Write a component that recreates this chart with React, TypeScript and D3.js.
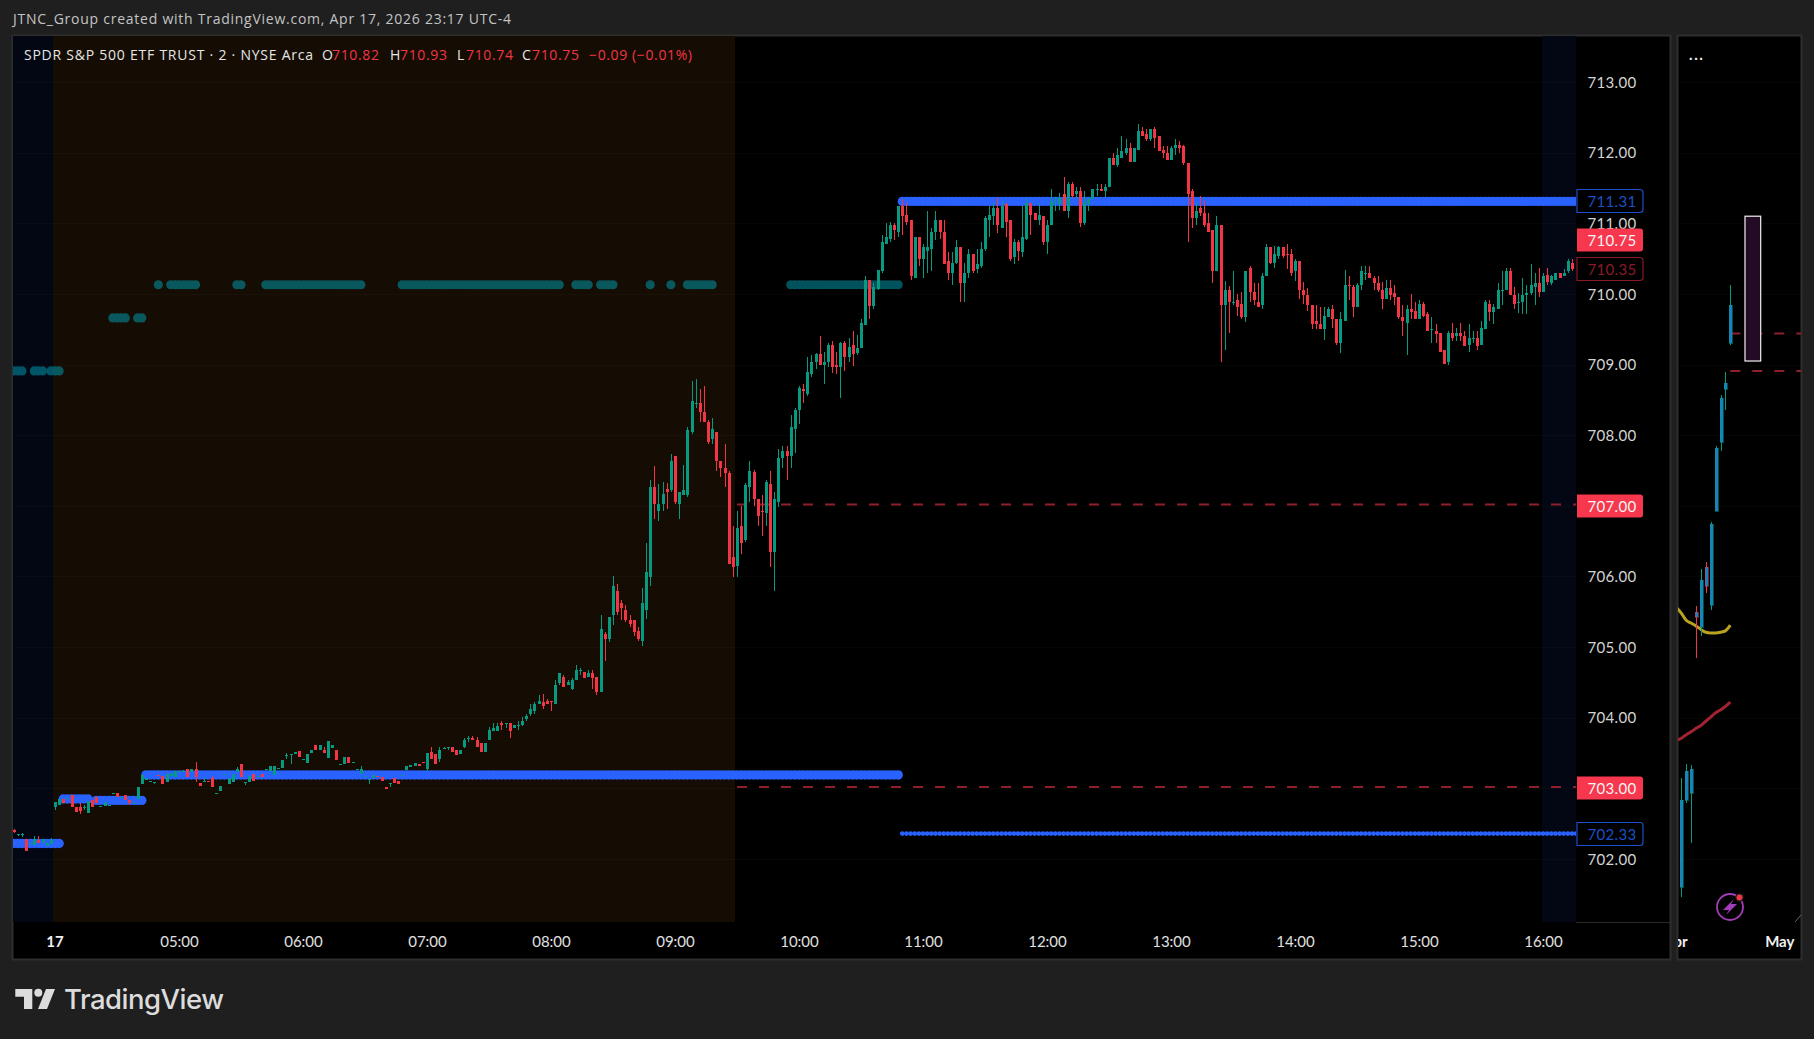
import { useEffect, useRef } from 'react';
import * as d3 from 'd3';

// SPY 2 minute chart, [open, high, low, close], one list per hour
type Bar = [number, number, number, number];

const overnightBars: Bar[] = [
  [702.41,702.42,702.37,702.38],[702.35,702.36,702.33,702.36],[702.34,702.37,702.31,702.35],[702.29,702.29,702.11,702.11],[702.21,702.22,702.21,702.22],
  [702.20,702.32,702.20,702.29],[702.27,702.32,702.22,702.22],[702.22,702.28,702.22,702.28],[702.18,702.22,702.18,702.22],[702.21,702.30,702.21,702.27],
];
const hour04: Bar[] = [
  [702.74,702.81,702.69,702.81],[702.77,702.85,702.77,702.85],[702.85,702.85,702.79,702.79],[702.85,702.87,702.85,702.87],[702.90,702.90,702.74,702.74],
  [702.73,702.73,702.67,702.67],[702.73,702.79,702.63,702.68],[702.73,702.76,702.69,702.74],[702.65,702.82,702.65,702.82],[702.83,702.83,702.74,702.74],
  [702.88,702.88,702.79,702.79],[702.74,702.75,702.74,702.75],[702.75,702.80,702.75,702.80],[702.75,702.77,702.75,702.77],[702.92,702.93,702.92,702.93],
  [702.93,702.93,702.88,702.88],[702.87,702.88,702.87,702.88],[702.90,702.90,702.83,702.83],[702.83,702.83,702.76,702.79],[702.78,702.79,702.78,702.79],
  [702.85,703.02,702.85,703.02],[703.06,703.19,703.06,703.19],[703.12,703.14,703.12,703.14],[703.09,703.11,703.09,703.11],[703.08,703.09,703.06,703.09],
  [703.19,703.19,703.18,703.18],[703.17,703.17,703.06,703.06],[703.09,703.21,703.09,703.21],[703.17,703.22,703.17,703.22],[703.16,703.24,703.16,703.24],
];
const hour05: Bar[] = [
  [703.24,703.25,703.24,703.25],[703.24,703.26,703.24,703.25],[703.28,703.28,703.16,703.16],[703.23,703.27,703.23,703.27],[703.28,703.38,703.09,703.16],
  [703.08,703.08,703.03,703.03],[703.10,703.16,703.10,703.11],[703.11,703.11,703.10,703.10],[703.14,703.17,703.02,703.02],[702.93,702.94,702.93,702.94],
  [702.96,703.04,702.96,703.04],[703.19,703.20,703.19,703.20],[703.06,703.14,703.06,703.14],[703.09,703.20,703.09,703.20],[703.23,703.30,703.23,703.27],
  [703.34,703.34,703.16,703.16],[703.08,703.09,703.05,703.09],[703.09,703.17,703.09,703.17],[703.20,703.20,703.10,703.10],[703.17,703.18,703.17,703.18],
  [703.20,703.20,703.16,703.16],[703.26,703.27,703.26,703.27],[703.25,703.31,703.25,703.31],[703.19,703.31,703.19,703.31],[703.28,703.29,703.28,703.29],
  [703.29,703.40,703.29,703.40],[703.46,703.50,703.41,703.47],[703.47,703.48,703.34,703.48],[703.48,703.52,703.48,703.52],[703.53,703.53,703.45,703.45],
];
const hour06: Bar[] = [
  [703.40,703.41,703.40,703.41],[703.36,703.48,703.36,703.48],[703.50,703.54,703.50,703.54],[703.61,703.61,703.55,703.55],[703.55,703.61,703.55,703.61],
  [703.55,703.59,703.50,703.50],[703.43,703.67,703.43,703.67],[703.57,703.61,703.57,703.61],[703.55,703.55,703.40,703.40],[703.33,703.34,703.33,703.34],
  [703.34,703.44,703.34,703.44],[703.44,703.44,703.36,703.36],[703.36,703.37,703.36,703.37],[703.26,703.27,703.26,703.27],[703.21,703.31,703.21,703.27],
  [703.16,703.17,703.16,703.17],[703.12,703.13,703.06,703.13],[703.14,703.19,703.14,703.19],[703.18,703.18,703.17,703.17],[703.16,703.16,703.11,703.11],
  [703.02,703.02,702.99,702.99],[703.07,703.08,703.02,703.08],[703.14,703.14,703.07,703.07],[703.11,703.11,703.06,703.06],[703.18,703.19,703.18,703.19],
  [703.26,703.31,703.26,703.31],[703.30,703.33,703.30,703.33],[703.31,703.36,703.31,703.36],[703.34,703.34,703.31,703.31],[703.37,703.37,703.36,703.36],
];
const hour07: Bar[] = [
  [703.27,703.50,703.25,703.50],[703.51,703.58,703.42,703.42],[703.48,703.49,703.35,703.35],[703.41,703.58,703.38,703.55],[703.56,703.58,703.56,703.57],
  [703.57,703.58,703.55,703.58],[703.58,703.58,703.52,703.52],[703.55,703.55,703.47,703.47],[703.49,703.54,703.49,703.54],[703.59,703.71,703.57,703.69],
  [703.70,703.74,703.66,703.71],[703.71,703.74,703.68,703.68],[703.69,703.73,703.59,703.59],[703.64,703.64,703.52,703.52],[703.52,703.64,703.52,703.64],
  [703.69,703.87,703.69,703.83],[703.81,703.92,703.81,703.86],[703.81,703.92,703.81,703.88],[703.93,703.95,703.82,703.89],[703.91,703.92,703.85,703.92],
  [703.92,703.92,703.71,703.81],[703.85,703.89,703.85,703.89],[703.88,703.95,703.82,703.89],[703.90,704.01,703.88,703.95],[703.98,704.05,703.95,704.03],
  [704.05,704.19,704.02,704.13],[704.09,704.22,704.05,704.19],[704.20,704.32,704.20,704.24],[704.22,704.33,704.12,704.17],[704.23,704.26,704.19,704.20],
];
const hour08: Bar[] = [
  [704.24,704.24,704.10,704.23],[704.20,704.53,704.20,704.47],[704.49,704.63,704.46,704.63],[704.58,704.61,704.44,704.44],[704.46,704.53,704.46,704.50],
  [704.41,704.56,704.39,704.53],[704.54,704.75,704.54,704.67],[704.66,704.70,704.60,704.67],[704.65,704.65,704.56,704.56],[704.58,704.68,704.58,704.63],
  [704.63,704.67,704.41,704.56],[704.57,704.57,704.32,704.36],[704.37,705.45,704.37,705.25],[705.18,705.21,704.81,705.12],[705.12,705.43,705.07,705.43],
  [705.46,706.01,705.31,705.86],[705.79,705.89,705.45,705.50],[705.62,705.67,705.39,705.56],[705.53,705.59,705.36,705.38],[705.38,705.45,705.29,705.32],
  [705.38,705.39,705.15,705.22],[705.23,705.29,705.08,705.11],[705.08,705.84,705.02,705.63],[705.53,706.47,705.40,706.07],[705.99,707.37,705.86,707.27],
  [707.27,707.57,706.81,707.02],[706.93,707.31,706.78,707.03],[707.03,707.34,706.92,707.17],[707.24,707.33,706.95,707.19],[707.22,707.73,707.20,707.63],
];
const hour09: Bar[] = [
  [707.71,707.71,707.03,707.05],[707.02,707.20,706.82,707.20],[707.16,707.58,707.16,707.22],[707.15,708.12,707.12,708.07],[708.05,708.76,708.01,708.48],
  [708.45,708.80,708.38,708.46],[708.46,708.66,708.18,708.33],[708.33,708.70,708.18,708.18],[708.19,708.22,707.88,707.91],[707.94,708.25,707.87,708.09],
  [708.04,708.04,707.50,707.64],[707.64,707.64,707.41,707.53],[707.54,707.88,707.27,707.46],[707.46,707.49,706.18,706.18],[706.28,706.72,705.99,706.14],
  [706.15,706.93,705.99,706.68],[706.72,707.00,706.32,706.48],[706.51,707.33,706.49,707.30],[707.27,707.63,707.05,707.50],[707.48,707.51,707.00,707.09],
  [707.10,707.10,706.72,706.86],[706.93,707.16,706.57,706.92],[706.90,707.37,706.72,707.34],[707.31,707.49,706.13,706.35],[706.34,707.19,705.79,707.09],
  [707.06,707.81,706.98,707.68],[707.68,707.85,707.54,707.78],[707.78,707.85,707.36,707.70],[707.70,708.29,707.53,708.11],[708.09,708.38,707.75,708.35],
];
const hour10: Bar[] = [
  [708.35,708.70,708.16,708.67],[708.66,708.73,708.45,708.62],[708.59,709.10,708.56,708.89],[708.87,709.14,708.83,709.04],[709.03,709.17,708.93,709.15],
  [709.15,709.41,709.00,709.00],[709.00,709.18,708.73,709.04],[709.03,709.31,708.97,709.27],[709.27,709.34,708.88,708.97],[709.00,709.18,708.87,708.96],
  [708.97,709.32,708.53,709.30],[709.31,709.34,708.91,709.10],[709.10,709.38,709.04,709.25],[709.27,709.48,708.98,709.15],[709.17,709.42,709.14,709.24],
  [709.24,709.65,709.24,709.59],[709.56,710.26,709.56,710.20],[710.20,710.20,709.65,709.83],[709.83,710.16,709.78,710.10],[710.07,710.34,710.05,710.34],
  [710.33,710.83,710.30,710.74],[710.70,711.01,710.70,710.81],[710.78,711.02,710.74,710.97],[710.97,711.01,710.77,710.90],[710.88,711.25,710.81,711.25],
  [711.25,711.35,710.83,711.11],[711.12,711.28,710.98,711.02],[711.04,711.04,710.20,710.26],[710.23,710.81,710.23,710.80],[710.80,710.81,710.40,710.49],
];
const hour11: Bar[] = [
  [710.49,710.70,710.22,710.66],[710.61,711.18,710.30,710.66],[710.63,710.94,710.33,710.87],[710.87,711.18,710.76,711.04],[711.04,711.04,710.78,710.88],
  [710.87,711.05,710.42,710.42],[710.46,710.60,710.19,710.29],[710.29,710.59,710.12,710.44],[710.44,710.76,710.43,710.67],[710.67,710.67,709.88,710.15],
  [710.15,710.44,709.89,710.30],[710.29,710.64,710.23,710.56],[710.56,710.57,710.30,710.32],[710.35,710.64,710.29,710.42],[710.40,710.73,710.37,710.63],
  [710.63,711.10,710.61,711.07],[711.05,711.25,710.81,711.12],[711.10,711.29,710.98,711.21],[711.21,711.36,710.86,710.98],[710.94,711.31,710.93,711.24],
  [711.27,711.28,710.80,711.02],[711.04,711.04,710.46,710.50],[710.52,710.78,710.43,710.73],[710.73,710.77,710.47,710.61],[710.60,711.25,710.52,710.81],
  [710.78,711.36,710.77,711.28],[711.28,711.28,710.83,711.12],[711.14,711.14,711.04,711.05],[711.05,711.28,710.98,711.12],[711.11,711.11,710.69,710.74],
];
const hour12: Bar[] = [
  [710.74,711.04,710.56,710.98],[710.98,711.48,710.98,711.31],[711.35,711.37,711.18,711.36],[711.27,711.43,711.19,711.36],[711.41,711.65,711.17,711.17],
  [711.17,711.58,711.08,711.55],[711.56,711.58,711.36,711.39],[711.41,711.52,711.34,711.45],[711.46,711.51,710.95,711.00],[711.00,711.45,710.97,711.28],
  [711.27,711.36,711.18,711.35],[711.35,711.49,711.35,711.48],[711.48,711.55,711.39,711.49],[711.48,711.56,711.45,711.45],[711.45,711.55,711.37,711.52],
  [711.52,711.93,711.52,711.92],[711.93,711.99,711.82,711.82],[711.82,712.06,711.80,711.96],[711.92,712.24,711.92,712.03],[712.00,712.19,711.97,712.07],
  [712.07,712.13,711.87,711.87],[711.87,712.06,711.87,712.06],[712.04,712.40,712.04,712.31],[712.31,712.37,712.24,712.24],[712.26,712.33,712.17,712.19],
  [712.20,712.34,712.16,712.34],[712.34,712.36,712.07,712.21],[712.23,712.24,712.03,712.03],[712.04,712.09,711.93,711.99],[712.00,712.10,711.90,711.90],
];
const hour13: Bar[] = [
  [711.90,712.09,711.90,712.07],[712.07,712.19,711.96,712.11],[712.11,712.17,712.00,712.06],[712.09,712.11,711.83,711.85],[711.86,711.86,710.74,711.42],
  [711.46,711.48,710.94,711.08],[711.07,711.29,710.97,711.18],[711.21,711.39,711.10,711.14],[711.14,711.31,710.95,710.98],[711.00,711.15,710.88,710.88],
  [710.90,710.90,710.15,710.32],[710.32,711.10,710.32,710.98],[710.98,710.98,709.04,709.84],[709.84,710.18,709.20,710.06],[710.05,710.11,709.45,709.88],
  [709.88,710.32,709.85,709.89],[709.91,710.00,709.69,709.81],[709.86,710.03,709.64,709.67],[709.67,710.32,709.60,710.32],[710.36,710.39,709.89,710.03],
  [710.03,710.16,709.84,709.91],[709.88,710.16,709.82,709.82],[709.84,710.29,709.79,710.25],[710.25,710.71,710.25,710.67],[710.67,710.67,710.43,710.44],
  [710.44,710.68,710.37,710.57],[710.54,710.68,710.50,710.67],[710.67,710.67,710.51,710.54],[710.56,710.70,710.35,710.55],[710.57,710.63,710.26,710.29],
];
const hour14: Bar[] = [
  [710.32,710.50,710.18,710.47],[710.47,710.47,709.93,710.06],[710.06,710.17,709.86,709.98],[709.99,710.09,709.76,709.84],[709.85,709.85,709.51,709.58],
  [709.62,709.85,709.50,709.58],[709.58,709.82,709.51,709.51],[709.51,709.81,709.35,709.69],[709.68,709.81,709.68,709.78],[709.79,709.85,709.52,709.65],
  [709.65,709.65,709.27,709.30],[709.30,709.75,709.16,709.65],[709.62,710.34,709.61,710.13],[710.12,710.25,709.92,710.11],[710.10,710.13,709.68,709.81],
  [709.81,710.15,709.81,710.12],[710.12,710.40,710.06,710.32],[710.29,710.40,710.20,710.30],[710.30,710.39,710.23,710.23],[710.22,710.25,710.05,710.16],
  [710.16,710.25,710.03,710.05],[710.05,710.17,709.79,709.93],[709.93,710.19,709.93,710.08],[710.09,710.19,709.92,709.98],[710.01,710.12,709.85,709.95],
  [709.95,709.95,709.65,709.67],[709.68,709.85,709.41,709.61],[709.59,709.85,709.14,709.79],[709.78,710.00,709.64,709.74],[709.76,709.89,709.64,709.64],
];
const hour15: Bar[] = [
  [709.64,709.91,709.64,709.86],[709.86,709.89,709.68,709.69],[709.71,709.74,709.47,709.47],[709.49,709.68,709.30,709.50],[709.48,709.57,709.30,709.43],
  [709.44,709.44,709.18,709.18],[709.20,709.20,709.01,709.01],[709.03,709.47,709.00,709.44],[709.44,709.59,709.34,709.38],[709.40,709.52,709.33,709.45],
  [709.45,709.59,709.33,709.40],[709.41,709.47,709.26,709.26],[709.27,709.57,709.18,709.38],[709.37,709.48,709.30,709.38],[709.38,709.48,709.21,709.26],
  [709.27,709.62,709.27,709.52],[709.50,709.92,709.50,709.88],[709.86,709.92,709.61,709.74],[709.74,709.86,709.58,709.81],[709.79,710.16,709.79,710.05],
  [710.04,710.33,709.85,710.05],[710.05,710.37,710.05,710.33],[710.33,710.36,709.98,709.98],[709.99,710.10,709.78,709.86],[709.87,710.01,709.73,709.88],
  [709.88,710.23,709.72,709.98],[709.98,710.13,709.71,710.01],[710.01,710.42,709.99,710.12],[710.10,710.30,709.85,710.16],[710.16,710.36,709.95,710.03],
];
const hour16: Bar[] = [
  [710.03,710.29,710.02,710.25],[710.27,710.36,710.12,710.17],[710.15,710.27,710.13,710.26],[710.20,710.30,710.19,710.29],[710.29,710.30,710.22,710.22],
  [710.26,710.35,710.25,710.30],[710.32,710.50,710.29,710.47],[710.44,710.50,710.33,710.35],
];

// daily-ish candles in the right hand mini pane
const sideBars: Bar[] = [
  [702.57,702.77,702.57,702.77],[701.60,703.14,701.46,702.83],[702.83,703.34,702.79,703.24],[702.93,703.33,702.22,703.27],[705.49,705.58,704.85,705.42],
  [705.28,706.10,705.15,705.95],[706.13,706.21,705.76,705.87],[705.60,706.77,705.52,706.74],[706.93,707.84,706.93,707.82],[707.91,708.57,707.78,708.53],
  [708.66,708.89,708.35,708.74],[709.31,710.13,709.28,709.85],
];
const sideYellow = [705.56,705.48,705.38,705.34,705.30,705.25,705.21,705.20,705.20,705.21,705.23,705.31];
const sideRed = [703.68,703.71,703.76,703.80,703.85,703.89,703.95,704.01,704.07,704.11,704.16,704.22];
const sideLevels = [709.44, 708.91];
const sideBoxPrices = [711.10, 709.05];
const sideBoxBars = [13, 16.2];
const sideMonths = ['Apr', 'May'];
const sideMonthBars = [-1.2, 20.1];

// dots: [first bar, last bar, price]
const tealRuns: [number, number, number][] = [
  [-10, -8, 708.91], [-5, -3, 708.91], [-1, 1, 708.91],
  [14, 17, 709.66], [20, 21, 709.66],
  [25, 25, 710.13], [28, 34, 710.13], [44, 45, 710.13], [51, 74, 710.13], [84, 122, 710.13], [126, 129, 710.13],
  [132, 135, 710.13], [144, 144, 710.13], [149, 149, 710.13], [153, 159, 710.13], [178, 204, 710.13],
];
const blueRuns: [number, number, number][] = [
  [-10, 1, 702.22], [2, 8, 702.85], [10, 21, 702.83], [22, 204, 703.19], [205, 368, 711.31],
];
const thinBlueRun: [number, number, number] = [205, 368, 702.36];
const dashedLevels = [707.02, 703.02];
const dashedFromBar = 165;

const hourBars = [30, 60, 90, 120, 150, 180, 210, 240, 270, 300, 330, 360];
const hourLabels = ['05:00', '06:00', '07:00', '08:00', '09:00', '10:00', '11:00', '12:00', '13:00', '14:00', '15:00', '16:00'];
const priceTicks = [713, 712, 711, 710, 709, 708, 706, 705, 704, 702];
const gridPrices = [713, 712, 711, 710, 709, 708, 707, 706, 705, 704, 703, 702];
const solidTags = [710.76, 707, 703];
const solidTagLabels = ['710.75', '707.00', '703.00'];
const outlineTags = [711.31, 710.35, 702.36];
const outlineTagLabels = ['711.31', '710.35', '702.33'];
const outlineTagColors = ['#1c4fc7', '#8a1a28', '#1c4fc7'];

const WIDTH = 1814;
const HEIGHT = 1039;
const PANE = { left: 13, top: 36, right: 1670, bottom: 959 };
const PLOT_RIGHT = 1576;
const PLOT_BOTTOM = 922;
const SIDE = { left: 1678, right: 1801 };
const GREEN = '#089981';
const RED = '#f23645';
const FONT = 'Lato, "Open Sans", sans-serif';
const TEXT_FONT = '"Open Sans", Lato, sans-serif';

const headerParts: { x: number; text: string; fill: string; len?: number }[] = [
  { x: 24, text: 'SPDR S&P 500 ETF TRUST · 2 · NYSE Arca', fill: '#e6e6e6', len: 289 },
  { x: 322, text: 'O', fill: '#e6e6e6' },
  { x: 332, text: '710.82', fill: RED, len: 47 },
  { x: 390, text: 'H', fill: '#e6e6e6' },
  { x: 400, text: '710.93', fill: RED, len: 47 },
  { x: 457, text: 'L', fill: '#e6e6e6' },
  { x: 466, text: '710.74', fill: RED, len: 47 },
  { x: 522, text: 'C', fill: '#e6e6e6' },
  { x: 532, text: '710.75', fill: RED, len: 47 },
  { x: 589, text: '−0.09 (−0.01%)', fill: RED, len: 103 },
];

export default function App() {
  const svgRef = useRef<SVGSVGElement | null>(null);

  useEffect(() => {
    const svgEl = svgRef.current;
    if (!svgEl) return;
    const svg = d3.select(svgEl);
    svg.selectAll('*').remove();

    const bars = [...overnightBars, ...hour04, ...hour05, ...hour06, ...hour07, ...hour08, ...hour09, ...hour10, ...hour11, ...hour12, ...hour13, ...hour14, ...hour15, ...hour16];
    const firstBar = -overnightBars.length;

    const x = d3.scaleLinear().domain([30, 360]).range([179, 1543]);
    const y = d3.scaleLinear().domain([702, 713]).range([859, 82]);
    const sideX = d3.scaleLinear().domain([0, 10]).range([1681.3, 1730.3]);

    const defs = svg.append('defs');
    defs.append('clipPath').attr('id', 'plot-clip').append('rect')
      .attr('x', PANE.left).attr('y', PANE.top).attr('width', PLOT_RIGHT - PANE.left).attr('height', PLOT_BOTTOM - PANE.top);
    defs.append('clipPath').attr('id', 'side-clip').append('rect')
      .attr('x', SIDE.left).attr('y', PANE.top).attr('width', SIDE.right - SIDE.left).attr('height', PANE.bottom - PANE.top);

    // ---- page + panes -------------------------------------------------------
    svg.append('rect').attr('width', WIDTH).attr('height', HEIGHT).attr('fill', '#1f1f1f');
    svg.append('rect')
      .attr('x', PANE.left - 0.5).attr('y', PANE.top - 0.5)
      .attr('width', PANE.right - PANE.left + 1).attr('height', PANE.bottom - PANE.top + 1)
      .attr('fill', '#000').attr('stroke', '#2e2e2e').attr('stroke-width', 2);
    svg.append('rect')
      .attr('x', SIDE.left - 0.5).attr('y', PANE.top - 0.5)
      .attr('width', SIDE.right - SIDE.left + 1).attr('height', PANE.bottom - PANE.top + 1)
      .attr('fill', '#000').attr('stroke', '#2e2e2e').attr('stroke-width', 2);

    svg.append('text')
      .attr('x', 13).attr('y', 24)
      .attr('font-family', TEXT_FONT).attr('font-size', 14).attr('fill', '#c4c4c4')
      .attr('textLength', 498).attr('lengthAdjust', 'spacing')
      .text('JTNC_Group created with TradingView.com, Apr 17, 2026 23:17 UTC-4');

    // ---- main plot ----------------------------------------------------------
    const plot = svg.append('g').attr('clip-path', 'url(#plot-clip)');

    // session shading
    plot.append('rect').attr('x', PANE.left).attr('y', PANE.top).attr('width', x(0) - 2 - PANE.left).attr('height', PLOT_BOTTOM - PANE.top).attr('fill', '#020713');
    plot.append('rect').attr('x', x(0) - 2).attr('y', PANE.top).attr('width', x(165) - 2 - x(0) + 2).attr('height', PLOT_BOTTOM - PANE.top).attr('fill', '#150d03');
    plot.append('rect').attr('x', x(360) - 1).attr('y', PANE.top).attr('width', PLOT_RIGHT - x(360) + 1).attr('height', PLOT_BOTTOM - PANE.top).attr('fill', '#020713');

    plot.append('g').selectAll('line').data(gridPrices).join('line')
      .attr('x1', PANE.left).attr('x2', PLOT_RIGHT)
      .attr('y1', (d) => Math.round(y(d)) + 0.5).attr('y2', (d) => Math.round(y(d)) + 0.5)
      .attr('stroke', '#fff').attr('stroke-opacity', 0.025);

    // dashed levels
    plot.append('g').selectAll('line').data(dashedLevels).join('line')
      .attr('x1', x(dashedFromBar)).attr('x2', PLOT_RIGHT)
      .attr('y1', (d) => y(d)).attr('y2', (d) => y(d))
      .attr('stroke', '#8f1f2d').attr('stroke-width', 2).attr('stroke-dasharray', '10 12');

    // dotted level runs
    const dotsFor = (runs: [number, number, number][]) =>
      runs.flatMap(([from, to, price]) => d3.range(from, to + 1).map((bar) => ({ bar, price })));

    const tealLayer = plot.append('g').attr('opacity', 0.55);
    tealLayer.selectAll('circle').data(dotsFor(tealRuns)).join('circle')
      .attr('cx', (d) => x(d.bar)).attr('cy', (d) => y(d.price)).attr('r', 4.6).attr('fill', '#0096aa');

    plot.append('g').selectAll('circle').data(dotsFor(blueRuns)).join('circle')
      .attr('cx', (d) => x(d.bar)).attr('cy', (d) => y(d.price)).attr('r', 4.7).attr('fill', '#2962ff');
    plot.append('g').selectAll('circle').data(dotsFor([thinBlueRun])).join('circle')
      .attr('cx', (d) => x(d.bar)).attr('cy', (d) => y(d.price)).attr('r', 2.4).attr('fill', '#2962ff');

    // candles
    const candles = plot.append('g').attr('shape-rendering', 'crispEdges');
    const candle = candles.selectAll('g').data(bars).join('g')
      .attr('fill', (d) => (d[3] >= d[0] ? GREEN : RED));
    candle.append('rect')
      .attr('x', (_, i) => Math.round(x(i + firstBar)))
      .attr('width', 1)
      .attr('y', (d) => Math.round(y(d[1])))
      .attr('height', (d) => Math.max(1, Math.round(y(d[2])) - Math.round(y(d[1]))));
    candle.append('rect')
      .attr('x', (_, i) => Math.round(x(i + firstBar)) - 1)
      .attr('width', 3)
      .attr('y', (d) => Math.round(y(Math.max(d[0], d[3]))))
      .attr('height', (d) => Math.max(1, Math.round(y(Math.min(d[0], d[3]))) - Math.round(y(Math.max(d[0], d[3])))));

    // legend line
    const header = svg.append('g').attr('font-family', TEXT_FONT).attr('font-size', 14);
    header.selectAll('text').data(headerParts).join('text')
      .attr('x', (d) => d.x).attr('y', 60).attr('fill', (d) => d.fill)
      .attr('textLength', (d) => d.len ?? null).attr('lengthAdjust', 'spacing')
      .text((d) => d.text);

    // ---- time axis ----------------------------------------------------------
    svg.append('line')
      .attr('x1', PLOT_RIGHT).attr('x2', PANE.right).attr('y1', PLOT_BOTTOM + 0.5).attr('y2', PLOT_BOTTOM + 0.5)
      .attr('stroke', '#2a2a2a');

    const timeAxis = d3.axisBottom(x)
      .tickValues(hourBars)
      .tickSize(0)
      .tickPadding(0)
      .tickFormat((_, i) => hourLabels[i]);
    const timeG = svg.append('g').attr('transform', `translate(0, ${PLOT_BOTTOM + 25})`).call(timeAxis);
    timeG.select('.domain').remove();
    timeG.selectAll('text').attr('font-family', FONT).attr('font-size', 15).attr('fill', '#e0e0e0').attr('dy', 0);
    svg.append('text')
      .attr('x', x(0)).attr('y', PLOT_BOTTOM + 25).attr('text-anchor', 'middle')
      .attr('font-family', FONT).attr('font-size', 15).attr('font-weight', 700).attr('fill', '#f0f0f0').text('17');

    // ---- price axis ---------------------------------------------------------
    const priceAxis = d3.axisRight(y)
      .tickValues(priceTicks)
      .tickSize(0)
      .tickPadding(0)
      .tickFormat(d3.format('.2f') as (d: d3.NumberValue) => string);
    const priceG = svg.append('g').attr('transform', `translate(1612, 0)`).call(priceAxis);
    priceG.select('.domain').remove();
    priceG.selectAll('text')
      .attr('x', 0).attr('dy', '0.35em').attr('text-anchor', 'middle')
      .attr('font-family', FONT).attr('font-size', 15).attr('letter-spacing', 0.3).attr('fill', '#d4d4d4');

    // price tags, square on the left and rounded on the right
    const tagPath = (cy: number) => {
      const top = Math.round(cy) - 11.5;
      return `M1577 ${top}H1640a3 3 0 0 1 3 3V${top + 20}a3 3 0 0 1 -3 3H1577Z`;
    };
    const tagText = (sel: d3.Selection<SVGTextElement, number, SVGGElement, unknown>, labels: string[]) =>
      sel.attr('x', 1612).attr('y', (d) => Math.round(y(d)) + 5.5)
        .attr('text-anchor', 'middle').attr('font-family', FONT).attr('font-size', 15).attr('letter-spacing', 0.3)
        .text((_, i) => labels[i]);

    const outlineG = svg.append('g');
    outlineG.selectAll('path').data(outlineTags).join('path')
      .attr('d', (d) => tagPath(y(d)))
      .attr('fill', '#000').attr('stroke-width', 1.2).attr('stroke', (_, i) => outlineTagColors[i]);
    tagText(outlineG.selectAll<SVGTextElement, number>('text').data(outlineTags).join('text'), outlineTagLabels)
      .attr('fill', (_, i) => outlineTagColors[i]);

    const solidG = svg.append('g');
    solidG.selectAll('path').data(solidTags).join('path').attr('d', (d) => tagPath(y(d))).attr('fill', '#f7374d');
    tagText(solidG.selectAll<SVGTextElement, number>('text').data(solidTags).join('text'), solidTagLabels)
      .attr('fill', '#f5f5f5');

    // ---- side pane ----------------------------------------------------------
    const side = svg.append('g').attr('clip-path', 'url(#side-clip)');

    side.append('g').selectAll('line').data(gridPrices).join('line')
      .attr('x1', SIDE.left).attr('x2', SIDE.right)
      .attr('y1', (d) => Math.round(y(d)) + 0.5).attr('y2', (d) => Math.round(y(d)) + 0.5)
      .attr('stroke', '#fff').attr('stroke-opacity', 0.025);

    side.append('g').selectAll('line').data(sideLevels).join('line')
      .attr('x1', sideX(10)).attr('x2', SIDE.right)
      .attr('y1', (d) => y(d)).attr('y2', (d) => y(d))
      .attr('stroke', '#8f1f2d').attr('stroke-width', 2).attr('stroke-dasharray', '10 12');

    side.append('rect')
      .attr('x', sideX(sideBoxBars[0])).attr('width', sideX(sideBoxBars[1]) - sideX(sideBoxBars[0]))
      .attr('y', y(sideBoxPrices[0])).attr('height', y(sideBoxPrices[1]) - y(sideBoxPrices[0]))
      .attr('fill', '#230b26').attr('stroke', '#f0f0f0').attr('stroke-width', 1.2);

    const sideLine = d3.line<number>().x((_, i) => sideX(i - 1)).y((d) => y(d)).curve(d3.curveMonotoneX);
    side.append('path').datum(sideYellow).attr('d', sideLine).attr('fill', 'none').attr('stroke', '#b9a321').attr('stroke-width', 3);
    side.append('path').datum(sideRed).attr('d', sideLine).attr('fill', 'none').attr('stroke', '#a32231').attr('stroke-width', 3);

    const sideCandles = side.append('g').attr('shape-rendering', 'crispEdges');
    const sideCandle = sideCandles.selectAll('g').data(sideBars).join('g');
    sideCandle.append('rect')
      .attr('x', (_, i) => Math.round(sideX(i - 1))).attr('width', 1)
      .attr('y', (d) => Math.round(y(d[1])))
      .attr('height', (d) => Math.round(y(d[2])) - Math.round(y(d[1])))
      .attr('fill', (d) => (d[3] >= d[0] ? GREEN : RED));
    sideCandle.filter((_, i) => i > 0).append('rect')
      .attr('x', (_, i) => Math.round(sideX(i)) - 1).attr('width', 3)
      .attr('y', (d) => Math.round(y(Math.max(d[0], d[3]))))
      .attr('height', (d) => Math.max(1, Math.round(y(Math.min(d[0], d[3]))) - Math.round(y(Math.max(d[0], d[3])))))
      .attr('fill', '#1a7fc4')
      .attr('stroke', (d) => (d[3] >= d[0] ? GREEN : RED)).attr('stroke-width', 0.5);

    side.append('g').selectAll('text').data(sideMonths).join('text')
      .attr('x', (_, i) => sideX(sideMonthBars[i])).attr('y', PLOT_BOTTOM + 25).attr('text-anchor', 'middle')
      .attr('font-family', FONT).attr('font-size', 15).attr('font-weight', 700).attr('fill', '#f0f0f0')
      .text((d) => d);

    side.append('line')
      .attr('x1', 1795).attr('y1', 922).attr('x2', 1801).attr('y2', 915)
      .attr('stroke', '#666').attr('stroke-width', 1);

    side.append('text')
      .attr('x', 1689).attr('y', 59.5)
      .attr('font-family', FONT).attr('font-size', 15).attr('font-weight', 700).attr('letter-spacing', 1.6).attr('fill', '#f0f0f0')
      .text('...');

    // lightning badge
    const badge = side.append('g').attr('transform', 'translate(1730, 907)');
    badge.append('circle').attr('r', 13).attr('fill', 'none').attr('stroke', '#a23cb8').attr('stroke-width', 1.8);
    badge.append('path').attr('d', 'M4 -8L-7 3H-1L-4 8L7 -3H1Z').attr('fill', '#a23cb8');
    badge.append('circle').attr('cx', 9.5).attr('cy', -9.5).attr('r', 3.6).attr('fill', RED).attr('stroke', '#1a1a1a').attr('stroke-width', 1.2);

    // ---- footer logo --------------------------------------------------------
    const logo = svg.append('g').attr('fill', '#dcdcdc');
    logo.append('path').attr('d', 'M15.3 989H32.3V1009H24V996.7H15.3Z');
    logo.append('circle').attr('cx', 38.3).attr('cy', 992.7).attr('r', 4);
    logo.append('path').attr('d', 'M46 989H55L47 1009H38Z');
    logo.append('text')
      .attr('x', 64).attr('y', 1009)
      .attr('font-family', '"Inter", Lato, sans-serif').attr('font-size', 27.5).attr('font-weight', 500)
      .attr('letter-spacing', -0.5)
      .text('TradingView');
  }, []);

  return (
    <svg
      ref={svgRef}
      width={WIDTH}
      height={HEIGHT}
      viewBox={`0 0 ${WIDTH} ${HEIGHT}`}
      style={{ position: 'fixed', left: 0, top: 0, display: 'block' }}
      role="img"
      aria-label="SPY 2 minute candlestick chart"
    />
  );
}
